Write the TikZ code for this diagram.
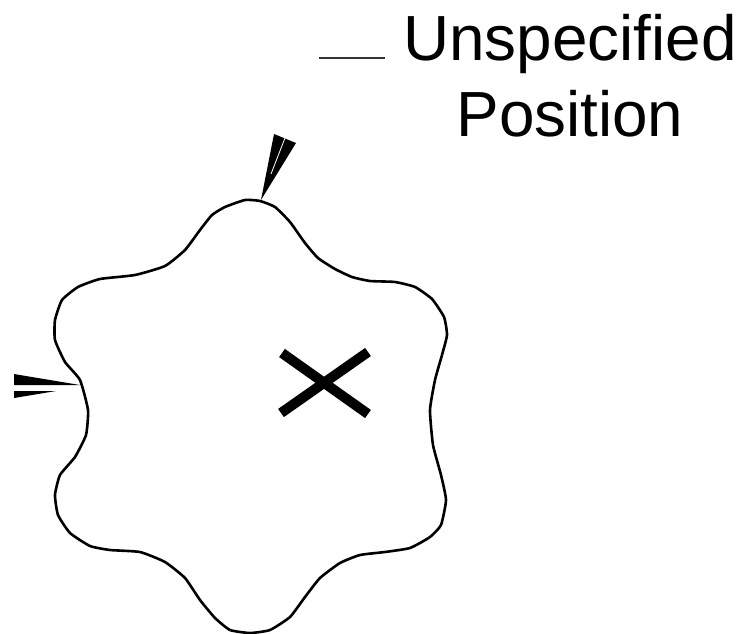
\documentclass[tikz,border=0pt]{standalone}
\usepackage{fontspec}
\setmainfont{Liberation Sans}
\tikzset{
  outline/.style={draw=black,line width=2.6pt,line join=round},
  wedge/.style={fill=black,draw=none},
  crossbar/.style={draw=black,line width=10pt},
  legendline/.style={draw=black!80,line width=1.1pt},
  legendtext/.style={font=\fontsize{63.8}{76}\selectfont,align=center,inner sep=0pt,anchor=center,text=black}
}
\begin{document}
\begin{tikzpicture}[x=1pt,y=-1pt]
\useasboundingbox (0,0) rectangle (740,634);
\draw[outline] plot[smooth cycle,tension=0.3] coordinates {
(225,207)(245,200)(260,201)(275,207)(290,222)(305,243)(318,258)(335,269)(352,277)(370,281)(395,282)(415,287)(432,299)(444,317)(447,335)(442,355)(435,380)(430,410)(433,445)(441,475)(446,500)(441,525)(430,537)(410,548)(385,552)(360,555)(340,563)(320,578)(305,597)(290,617)(270,630)(250,633)(230,630)(215,618)(200,600)(185,578)(165,562)(140,552)(110,550)(90,546)(70,533)(58,515)(55,495)(60,475)(75,457)(86,435)(88,410)(80,380)(65,362)(55,340)(55,320)(62,300)(78,287)(100,279)(135,275)(165,266)(185,250)(200,230)(212,215)};
\fill[wedge] (261,200) -- (274,134) -- (296,143) -- cycle;
\draw[white,line width=0.8pt] (285,138) -- (271,174);
\fill[wedge] (80,385) -- (14,374) -- (14,385) -- cycle;
\fill[wedge] (56,391) -- (14,391) -- (14,398) -- cycle;
\draw[crossbar] (282,353) -- (368,414);
\draw[crossbar] (368,352) -- (281,413);
\coordinate (legendstart) at (319,58);
\coordinate (legendend) at (385,58);
\draw[legendline] (legendstart) -- (legendend);
\node[legendtext] (legend) at (570,76) {Unspecified\\Position};
\end{tikzpicture}
\end{document}
